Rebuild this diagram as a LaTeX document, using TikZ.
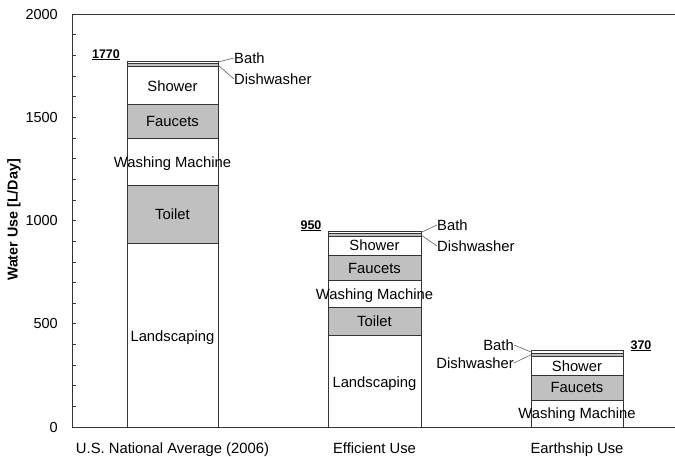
\documentclass[tikz,border=0pt]{standalone}
\usepackage{fontspec}
\setmainfont{Liberation Sans}
\definecolor{segGray}{HTML}{C0C0C0}
\definecolor{lineDark}{HTML}{333333}
\begin{document}
\begin{tikzpicture}[x=1pt,y=-1pt,
  seg/.style={draw=lineDark, line width=0.8pt},
  wseg/.style={seg, fill=white},
  gseg/.style={seg, fill=segGray},
  axisline/.style={draw=lineDark, line width=0.9pt},
  lbl/.style={font=\fontsize{14.8}{15}\selectfont, inner sep=0pt, text height=10.6pt, text depth=0pt},
  vlbl/.style={font=\fontsize{12.5}{14}\selectfont\bfseries, inner sep=0pt, text height=9pt, text depth=0pt},
  ticklbl/.style={font=\fontsize{14.5}{15}\selectfont, inner sep=0pt, anchor=east, text height=10.4pt, text depth=0pt},
  leader/.style={draw=black!70, line width=0.5pt}]
\useasboundingbox (0,0) rectangle (675,456);
\fill[white] (0,0) rectangle (675,456);

% axes
\draw[axisline] (675,14) -- (72,14) -- (72,427) -- (675,427);
\foreach \v in {100,200,...,1900}
  \draw[axisline, line width=0.6pt] (72,{427-\v*0.2065}) -- ++(4,0);
\node[ticklbl] (y2000) at (58,14) {2000};
\node[ticklbl] (y1500) at (58,117.25) {1500};
\node[ticklbl] (y1000) at (58,220.5) {1000};
\node[ticklbl] (y500) at (58,323.75) {500};
\node[ticklbl] (y0) at (58,427) {0};
\node[font=\fontsize{14.3}{15}\selectfont\bfseries, rotate=90, inner sep=0pt] (ytitle) at (14,220) {Water Use [L/Day]};

% bar 1
\draw[wseg] (127,243.3) rectangle (218,427);
\draw[gseg] (127,185) rectangle (218,243.3);
\draw[wseg] (127,138.3) rectangle (218,185);
\draw[gseg] (127,104.3) rectangle (218,138.3);
\draw[wseg] (127,66.5) rectangle (218,104.3);
\draw[gseg] (127,63.7) rectangle (218,66.5);
\draw[wseg] (127,61) rectangle (218,63.7);
\node[lbl] (a1) at (172.5,336) {Landscaping};
\node[lbl] (a2) at (172.5,213.7) {Toilet};
\node[lbl] (a3) at (172.5,162) {Washing Machine};
\node[lbl] (a4) at (172.5,121) {Faucets};
\node[lbl] (a5) at (172.5,86) {Shower};
\node[lbl, anchor=west] (a6) at (234,79) {Dishwasher};
\node[lbl, anchor=west] (a7) at (234,58) {Bath};
\coordinate (c1b) at (218,62);
\coordinate (c1d) at (218,65);
\draw[leader] (c1b) -- (a7.west);
\draw[leader] (c1d) -- (a6.west);
\node[vlbl] (v1) at (106,53.5) {\underline{1770}};

% bar 2
\draw[wseg] (328,335.7) rectangle (421,427);
\draw[gseg] (328,307.3) rectangle (421,335.7);
\draw[wseg] (328,280.7) rectangle (421,307.3);
\draw[gseg] (328,255) rectangle (421,280.7);
\draw[wseg] (328,236) rectangle (421,255);
\draw[gseg] (328,233.7) rectangle (421,236);
\draw[wseg] (328,231.5) rectangle (421,233.7);
\node[lbl] (b1) at (374.5,382) {Landscaping};
\node[lbl] (b2) at (374.5,321) {Toilet};
\node[lbl] (b3) at (374.5,294) {Washing Machine};
\node[lbl] (b4) at (374.5,268) {Faucets};
\node[lbl] (b5) at (374.5,245.5) {Shower};
\node[lbl, anchor=west] (b6) at (437,246) {Dishwasher};
\node[lbl, anchor=west] (b7) at (437,225) {Bath};
\coordinate (c2b) at (421,232.5);
\coordinate (c2d) at (421,235);
\draw[leader] (c2b) -- (b7.west);
\draw[leader] (c2d) -- (b6.west);
\node[vlbl] (v2) at (311,224.5) {\underline{950}};

% bar 3
\draw[wseg] (531,400) rectangle (623,427);
\draw[gseg] (531,375) rectangle (623,400);
\draw[wseg] (531,356) rectangle (623,375);
\draw[gseg] (531,353.3) rectangle (623,356);
\draw[wseg] (531,350.7) rectangle (623,353.3);
\node[lbl] (d3) at (577,413) {Washing Machine};
\node[lbl] (d4) at (577,387.5) {Faucets};
\node[lbl] (d5) at (577,366) {Shower};
\node[lbl, anchor=east] (d6) at (514,363) {Dishwasher};
\node[lbl, anchor=east] (d7) at (514,345) {Bath};
\coordinate (c3b) at (531,352);
\coordinate (c3d) at (531,354.7);
\draw[leader] (c3b) -- (d7.east);
\draw[leader] (c3d) -- (d6.east);
\node[vlbl] (v3) at (641,344.5) {\underline{370}};

% categories
\node[lbl] (x1) at (172.5,448.3) {U.S. National Average (2006)};
\node[lbl] (x2) at (374.5,448.3) {Efficient Use};
\node[lbl] (x3) at (577,448.3) {Earthship Use};
\end{tikzpicture}
\end{document}
